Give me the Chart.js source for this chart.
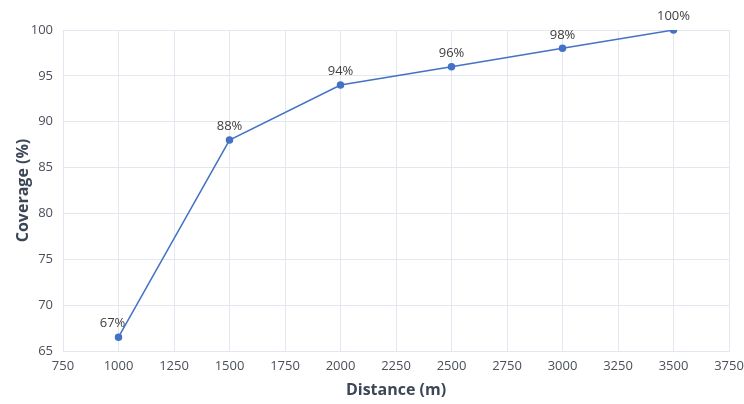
<!DOCTYPE html>
<html>
<head>
<meta charset="utf-8">
<script src="https://cdn.jsdelivr.net/npm/chart.js@4"></script>
<style>
  html, body { margin: 0; padding: 0; background: #fff; }
  #wrap { width: 744px; height: 404px; }
</style>
</head>
<body>
<div id="wrap"><canvas id="chart" width="744" height="404"></canvas></div>
<script>
// Values
const distances = [1000, 1500, 2000, 2500, 3000, 3500];
const coverage = [66.5, 88, 94, 96, 98, 100];
const pointLabels = ['67%', '88%', '94%', '96%', '98%', '100%'];

const FONT = '"Open Sans", "Liberation Sans", sans-serif';
const LINE = '#4472C4';
const GRID = '#e3e7ef';
const TEXT = '#4a4f58';

// Draw the percent labels above each point
const valueLabels = {
    id: 'valueLabels',
    afterDatasetsDraw(chart) {
        const ctx = chart.ctx;
        const meta = chart.getDatasetMeta(0);
        ctx.save();
        ctx.font = '13px ' + FONT;
        ctx.fillStyle = '#404040';
        ctx.textAlign = 'center';
        ctx.textBaseline = 'bottom';
        meta.data.forEach((pt, i) => {
            const dx = i === 0 ? -6 : 0;
            ctx.fillText(pointLabels[i], pt.x + dx, pt.y - 7);
        });
        ctx.restore();
    }
};

new Chart(document.getElementById('chart'), {
    type: 'scatter',
    data: {
        datasets: [{
            data: distances.map((d, i) => ({ x: d, y: coverage[i] })),
            showLine: true,
            borderColor: LINE,
            backgroundColor: LINE,
            borderWidth: 1.5,
            pointRadius: 3,
            pointHoverRadius: 3,
            tension: 0
        }]
    },
    options: {
        responsive: false,
        animation: false,
        layout: { padding: { left: 10, right: 15, top: 30, bottom: 0 } },
        plugins: {
            legend: { display: false },
            tooltip: { enabled: false }
        },
        scales: {
            x: {
                type: 'linear',
                min: 750,
                max: 3750,
                ticks: {
                    stepSize: 250, color: TEXT, font: { family: FONT, size: 13 }, padding: 7,
                    callback: v => String(v)
                },
                grid: { color: GRID, drawTicks: false },
                border: { color: GRID },
                title: { display: true, text: 'Distance (m)', color: '#3b4656', font: { family: FONT, size: 16, weight: 'bold' }, padding: { top: 2 } },
                afterFit(scale) {
                    scale.height = 53;
                    scale.paddingLeft = 0;
                    scale.paddingRight = 0;
                }
            },
            y: {
                min: 65,
                max: 100,
                ticks: { stepSize: 5, color: TEXT, font: { family: FONT, size: 13 }, padding: 10 },
                grid: { color: GRID, drawTicks: false },
                border: { color: GRID },
                title: { display: true, text: 'Coverage (%)', color: '#3b4656', font: { family: FONT, size: 16, weight: 'bold' }, padding: { bottom: 4 } },
                afterFit(scale) {
                    scale.width = 53;
                    scale.paddingTop = 0;
                    scale.paddingBottom = 0;
                }
            }
        }
    },
    plugins: [valueLabels]
});
</script>
</body>
</html>
